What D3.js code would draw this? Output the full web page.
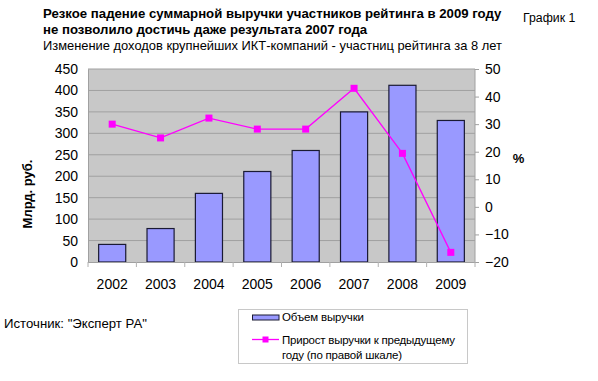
<!DOCTYPE html>
<html><head><meta charset="utf-8">
<script src="https://cdn.jsdelivr.net/npm/d3@7"></script>
<style>body{margin:0;background:#fff}svg{font-family:"Liberation Sans",Arial,sans-serif}</style>
</head><body>
<script>
const years = ["2002","2003","2004","2005","2006","2007","2008","2009"];
const revenue = [41, 78, 160, 211, 260, 350, 412, 330];
const growth = [30, 25, 32.2, 28.2, 28.2, 43, 19.4, -16.5];
const leftTicks = [0,50,100,150,200,250,300,350,400,450];
const rightTicks = [-20,-10,0,10,20,30,40,50];

const W=598,H=381;
const svg=d3.select("body").append("svg").attr("width",W).attr("height",H);
const L=88,R=475,T=69,B=262;
const x=d3.scaleBand().domain(years).range([L,R]).paddingInner(0.44).paddingOuter(0.22);
const xb=d3.scaleBand().domain(years).range([L,R]);
const y=d3.scaleLinear().domain([0,450]).range([B,T]);
const y2=d3.scaleLinear().domain([-20,50]).range([B,T]);

svg.append("rect").attr("x",L).attr("y",T).attr("width",R-L).attr("height",B-T).attr("fill","#c8c8c8");
svg.append("g").selectAll("line").data(leftTicks.slice(1)).join("line")
 .attr("x1",L).attr("x2",R).attr("y1",d=>y(d)).attr("y2",d=>y(d)).attr("stroke","#a0a0a0").attr("stroke-width",1);
svg.append("line").attr("x1",R).attr("x2",R).attr("y1",T).attr("y2",B).attr("stroke","#a0a0a0");

svg.append("g").selectAll("rect").data(years).join("rect")
 .attr("x",d=>x(d)).attr("width",x.bandwidth())
 .attr("y",(d,i)=>y(revenue[i])).attr("height",(d,i)=>B-y(revenue[i]))
 .attr("fill","#9999ff").attr("stroke","#1a1a33").attr("stroke-width",1.2);

const gl=svg.append("g").attr("transform",`translate(${L},0)`).call(d3.axisLeft(y).tickValues(leftTicks).tickSize(0).tickPadding(10));
gl.select(".domain").attr("stroke","#a0a0a0");
gl.selectAll("text").attr("font-size",14).attr("fill","#000").style("font-family","Liberation Sans, Arial");
const gr=svg.append("g").attr("transform",`translate(${R},0)`).call(d3.axisRight(y2).tickValues(rightTicks).tickSize(4).tickPadding(6));
gr.select(".domain").remove();
gr.selectAll("line").attr("stroke","#a0a0a0");
gr.selectAll("text").attr("font-size",14).attr("fill","#000").style("font-family","Liberation Sans, Arial");
const gb=svg.append("g").attr("transform",`translate(0,${B})`).call(d3.axisBottom(xb).tickSize(0).tickPadding(17));
gb.select(".domain").attr("stroke","#a0a0a0").attr("d",`M${L},0.5H${R}`);
gb.selectAll("text").attr("font-size",14).attr("fill","#000").style("font-family","Liberation Sans, Arial");
svg.append("g").selectAll("line").data(years.concat(["end"])).join("line")
 .attr("x1",(d,i)=>L+i*xb.bandwidth()).attr("x2",(d,i)=>L+i*xb.bandwidth())
 .attr("y1",B).attr("y2",B+5).attr("stroke","#b0b0b0");

const cx=d=>x(d)+x.bandwidth()/2;
svg.append("path").datum(years).attr("fill","none").attr("stroke","#ff00ff").attr("stroke-width",1.3)
 .attr("d",d3.line().x(d=>cx(d)).y((d,i)=>y2(growth[i])));
svg.append("g").selectAll("rect").data(years).join("rect")
 .attr("x",d=>cx(d)-3.5).attr("y",(d,i)=>y2(growth[i])-3.5).attr("width",7).attr("height",7).attr("fill","#ff00ff");

svg.append("text").attr("x",43).attr("y",18).attr("font-size",13.2).attr("font-weight","bold").text("Резкое падение суммарной выручки участников рейтинга в 2009 году");
svg.append("text").attr("x",43).attr("y",34).attr("font-size",13.2).attr("font-weight","bold").text("не позволило достичь даже результата 2007 года");
svg.append("text").attr("x",43).attr("y",49.5).attr("font-size",12.9).text("Изменение доходов крупнейших ИКТ-компаний - участниц рейтинга за 8 лет");
svg.append("text").attr("x",523).attr("y",21.5).attr("font-size",12.3).text("График 1");
svg.append("text").attr("transform","translate(31.5,194) rotate(-90)").attr("text-anchor","middle").attr("font-size",13).attr("font-weight","bold").text("Млрд. руб.");
svg.append("text").attr("x",518.5).attr("y",163).attr("text-anchor","middle").attr("font-size",13).attr("font-weight","bold").text("%");
svg.append("text").attr("x",4).attr("y",327.5).attr("font-size",13.2).text("Источник: \"Эксперт РА\"");

const lg=svg.append("g");
lg.append("rect").attr("x",238.5).attr("y",309.5).attr("width",229).attr("height",54).attr("fill","#fff").attr("stroke","#c8c8c8");
lg.append("rect").attr("x",252.5).attr("y",315).attr("width",26.5).attr("height",5).attr("fill","#9999ff").attr("stroke","#1a1a33");
lg.append("text").attr("x",282).attr("y",321).attr("font-size",11.5).attr("textLength",82).attr("lengthAdjust","spacing").text("Объем выручки");
lg.append("line").attr("x1",252).attr("x2",279).attr("y1",339.5).attr("y2",339.5).attr("stroke","#ff00ff").attr("stroke-width",1.3);
lg.append("rect").attr("x",262.5).attr("y",336.5).attr("width",6).attr("height",6).attr("fill","#ff00ff");
lg.append("text").attr("x",282).attr("y",344).attr("font-size",11.5).attr("textLength",173).attr("lengthAdjust","spacing").text("Прирост выручки к предыдущему");
lg.append("text").attr("x",282).attr("y",358.5).attr("font-size",11.5).attr("textLength",120).attr("lengthAdjust","spacing").text("году (по правой шкале)");
</script>
</body></html>
